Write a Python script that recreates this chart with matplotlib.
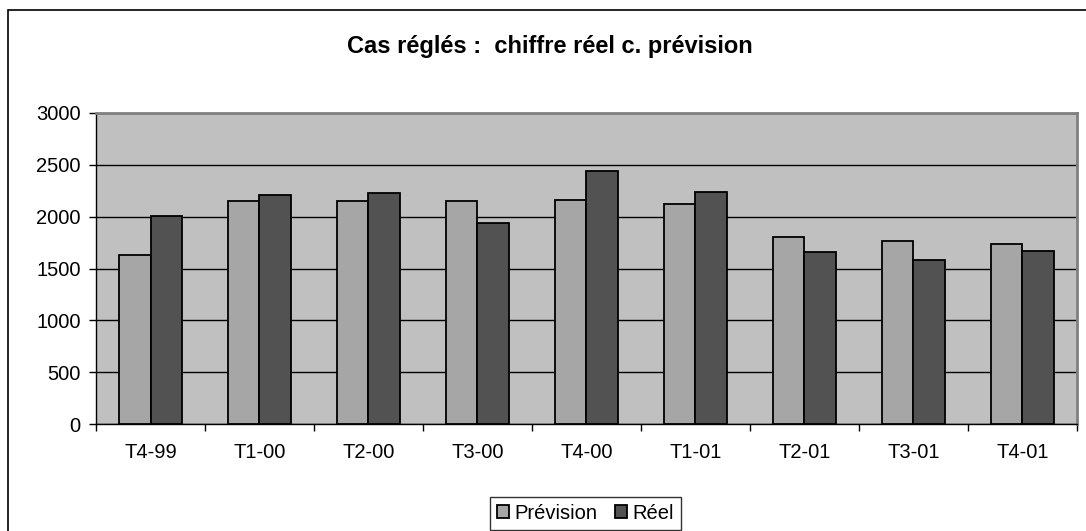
import numpy as np
import matplotlib
matplotlib.use("Agg")
import matplotlib.pyplot as plt
from matplotlib.patches import Rectangle

plt.rcParams["font.family"] = ["Liberation Sans", "DejaVu Sans"]

trimestres = ["T4-99", "T1-00", "T2-00", "T3-00", "T4-00", "T1-01", "T2-01", "T3-01", "T4-01"]
prevision = [1630, 2150, 2150, 2150, 2160, 2125, 1800, 1765, 1735]
reel = [2010, 2205, 2230, 1940, 2445, 2240, 1660, 1580, 1665]

fig = plt.figure(figsize=(10.86, 5.31), dpi=100)
ax = fig.add_axes([0.0884, 0.2015, 0.9033, 0.5857])
ax.set_facecolor("#c0c0c0")

x = np.arange(len(trimestres))
w = 0.285
ax.bar(x - w / 2, prevision, w, color="#a6a6a6", edgecolor="black", linewidth=1.3,
       label="Prévision", zorder=3)
ax.bar(x + w / 2, reel, w, color="#525252", edgecolor="black", linewidth=1.3,
       label="Réel", zorder=3)

ax.set_xlim(-0.5, len(trimestres) - 0.5)
ax.set_ylim(0, 3000)
ax.set_yticks(np.arange(0, 3001, 500))
ax.yaxis.grid(True, color="black", linewidth=1)
ax.set_axisbelow(True)

ax.set_xticks(x)
ax.set_xticklabels(trimestres, fontsize=14.5)
ax.set_xticks(np.arange(-0.5, len(trimestres)), minor=True)
ax.tick_params(axis="x", which="major", length=0, pad=14)
ax.tick_params(axis="x", which="minor", length=5, width=1, direction="out")
ax.tick_params(axis="y", length=5, width=1, labelsize=14.5, pad=6)

for side in ["top", "right"]:
    ax.spines[side].set_color("#808080")
    ax.spines[side].set_linewidth(2)
for side in ["left", "bottom"]:
    ax.spines[side].set_color("black")
    ax.spines[side].set_linewidth(1)

fig.text(0.506, 0.913, "Cas réglés :  chiffre réel c. prévision", ha="center", va="center",
         fontsize=17, fontweight="bold")

leg = fig.legend(loc="lower center", bbox_to_anchor=(0.539, 0.0), ncol=2, fontsize=14.5,
                 frameon=True, fancybox=False, edgecolor="black", handlelength=0.6,
                 handleheight=0.6, handletextpad=0.25, columnspacing=0.9,
                 borderpad=0.35, borderaxespad=0.05)
leg.get_frame().set_linewidth(1)

fig.add_artist(Rectangle((0.0078, -0.05), 1.1, 1.0312, transform=fig.transFigure,
                         fill=False, edgecolor="black", linewidth=1.2))

fig.savefig("out.png", dpi=100)
